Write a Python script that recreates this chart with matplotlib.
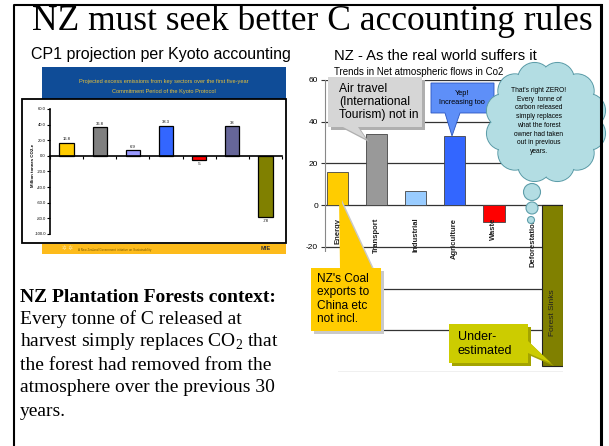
import numpy as np
import matplotlib
matplotlib.use("Agg")
import matplotlib.pyplot as plt
from matplotlib.patches import Rectangle, Polygon, Circle, Ellipse

plt.rcParams["mathtext.fontset"] = "custom"
plt.rcParams["mathtext.rm"] = "Liberation Serif"

W, H = 609, 446
SERIF = "Liberation Serif"
SANS = "Liberation Sans"

# ── Left chart: CP1 projection per Kyoto accounting ─────────
kyoto_values = [16.8, 36.8, 6.9, 38.3, -5, 38, -78]
kyoto_labels = ["16.8", "36.8", "6.9", "38.3", "-5", "38", "-78"]
kyoto_colors = ["#FFCC00", "#808080", "#9999FF", "#3366FF", "#FF0000",
                "#666699", "#808000"]
kyoto_yticks = [60, 40, 20, 0, -20, -40, -60, -80, -100]

# ── Right chart: net atmospheric flows ──────────────────────
sectors = ["Energy", "Transport", "Industrial", "Agriculture", "Waste",
           "Deforestation"]
net_flows = [16, 34, 6.7, 33, -8, 0]
sector_colors = ["#FFCC00", "#999999", "#99CCFF", "#3366FF", "#FF0000",
                 "#808000"]
forest_sinks = -77
net_yticks = [60, 40, 20, 0, -20, -40, -60, -80]


def px_axes(fig, x0, y0, x1, y1, z):
    ax = fig.add_axes([x0 / W, 1 - y1 / H, (x1 - x0) / W, (y1 - y0) / H])
    ax.set_zorder(z)
    ax.patch.set_visible(False)
    return ax


def callout(ax, pts, fill, shadow=None, off=3, edge="none"):
    if shadow:
        sh = [(x + off, y + off) for x, y in pts]
        ax.add_patch(Polygon(sh, closed=True, fc=shadow, ec="none", zorder=4))
    ax.add_patch(Polygon(pts, closed=True, fc=fill, ec=edge, lw=0.6, zorder=5))


fig = plt.figure(figsize=(W / 100, H / 100), dpi=100)

bg = fig.add_axes([0, 0, 1, 1])
bg.set_xlim(0, W)
bg.set_ylim(H, 0)
bg.axis("off")
bg.set_zorder(0)

# titles
bg.text(312, 21, "NZ must seek better C accounting rules", family=SERIF,
        fontsize=25.5, ha="center", va="center")
bg.text(31, 54, "CP1 projection per Kyoto accounting", family=SANS,
        fontsize=11.5, va="center")
bg.text(334, 56, "NZ - As the real world suffers it", family=SANS,
        fontsize=10.6, va="center")
bg.text(334, 72, "Trends in Net atmospheric flows in Co2", family=SANS,
        fontsize=7, va="center")

# left image frame
bg.add_patch(Rectangle((42, 67), 244, 32, fc="#0F4C97", ec="none"))
bg.text(164, 81, "Projected excess emissions from key sectors over the first five-year",
        family=SANS, fontsize=4.1, color="#E8C23A", ha="center", va="center")
bg.text(164, 91, "Commitment Period of the Kyoto Protocol",
        family=SANS, fontsize=4.1, color="#E8C23A", ha="center", va="center")
bg.add_patch(Rectangle((22, 99), 264, 144, fc="white", ec="black", lw=1.3))
bg.add_patch(Rectangle((42, 244), 244, 10, fc="#FDBB1B", ec="none"))
bg.text(78, 250, "A New Zealand Government initiative on Sustainability",
        family=SANS, fontsize=2.2, color="#7a5a00", va="center")
bg.text(62, 249, "✲ ✲", family="DejaVu Sans", fontsize=4, color="#FBE7A8",
        va="center")
bg.text(266, 249, "MfE", family=SANS, fontsize=4, fontweight="bold",
        color="#333333", ha="center", va="center")
bg.text(33, 165, "Million tonnes CO2-e", family=SANS, fontsize=3.2,
        fontweight="bold", rotation=90, ha="center", va="center")

# bottom-left text
bg.text(20, 297, "NZ Plantation Forests context:", family=SERIF, fontsize=14,
        fontweight="bold", va="center")
body = ["Every tonne of C released at",
        r"harvest simply replaces CO$_2$ that",
        "the forest had removed from the",
        "atmosphere over the previous 30",
        "years."]
for i, line in enumerate(body):
    bg.text(20, 319 + i * 23, line, family=SERIF, fontsize=14, va="center")

# ── left data axes ──
axl = px_axes(fig, 50, 109, 282, 234, 2)
xl = np.arange(len(kyoto_values))
axl.bar(xl, kyoto_values, width=0.43, color=kyoto_colors, edgecolor="black",
        linewidth=0.9)
for x, v, lab in zip(xl, kyoto_values, kyoto_labels):
    axl.text(x, v + (2 if v > 0 else -3), lab, fontsize=3, family=SANS,
             ha="center", va="bottom" if v > 0 else "top")
axl.set_xlim(-0.5, len(kyoto_values) - 0.5)
axl.set_ylim(-100, 60)
axl.set_yticks(kyoto_yticks)
axl.set_yticklabels([f"{v:.1f}" for v in kyoto_yticks], fontsize=3,
                    family=SANS)
axl.set_xticks(np.arange(len(kyoto_values) + 1) - 0.5)
axl.set_xticklabels([])
axl.spines["bottom"].set_position(("data", 0))
for s in ["top", "right"]:
    axl.spines[s].set_visible(False)
axl.spines["left"].set_linewidth(1.2)
axl.spines["bottom"].set_linewidth(1.2)
axl.tick_params(length=2, width=0.8, pad=1)

# ── right data axes ──
axr = px_axes(fig, 325, 80, 563, 372, 2)
xr = np.arange(len(sectors))
for y in net_yticks:
    axr.axhline(y, color="#333333" if y > -80 else "#888888", lw=0.9,
                zorder=1)
axr.bar(xr, net_flows, width=0.55, color=sector_colors, edgecolor="#444444",
        linewidth=0.6, zorder=3)
axr.bar(len(sectors) - 0.5, forest_sinks, width=0.54, color="#808000",
        edgecolor="#222222", linewidth=0.8, zorder=3)
axr.text(len(sectors) - 0.5, forest_sinks / 2 - 13, "Forest Sinks",
         rotation=90, fontsize=6, family=SANS, ha="center", va="center",
         color="#222222", zorder=4)
for x, name in zip(xr, sectors):
    axr.text(x, -6, name, rotation=90, fontsize=5.5, family=SANS,
             fontweight="bold", color="#222222", ha="center", va="top",
             zorder=4)
axr.set_xlim(-0.32, 5.77)
axr.set_ylim(-80, 60)
axr.set_yticks(net_yticks)
axr.set_yticklabels([str(v) for v in net_yticks], fontsize=6, family=SANS)
axr.set_xticks([])
for s in ["top", "right", "bottom"]:
    axr.spines[s].set_visible(False)
axr.spines["left"].set_color("#888888")
axr.tick_params(length=3, width=0.8, pad=2, color="#333333")

# ── overlay: callouts, cloud, border ──
ov = fig.add_axes([0, 0, 1, 1])
ov.set_xlim(0, W)
ov.set_ylim(H, 0)
ov.axis("off")
ov.set_zorder(10)
ov.patch.set_visible(False)

ov.add_patch(Rectangle((300, 252), 38, 130, fc="white", ec="none", zorder=3))

# gray: air travel
callout(ov, [(328, 77), (422, 77), (422, 127), (358, 127), (366, 139),
             (343, 127), (328, 127)], "#D6D6D6", shadow="#AFAFAF", off=3)
ov.text(339, 102, "Air travel\n(International\nTourism) not in", family=SANS,
        fontsize=8.7, va="center", linespacing=1.15, zorder=6)

# blue: agriculture
callout(ov, [(431, 83), (494, 83), (494, 113), (460, 113), (452, 136),
             (445, 113), (431, 113)], "#5E8FF8", edge="#2A55C0")
ov.text(462, 98, "Yep!\nIncreasing too", family=SANS, fontsize=5.3,
        ha="center", va="center", linespacing=1.3, zorder=6)

# yellow: coal exports
callout(ov, [(311, 268), (340, 268), (339, 197), (372, 268), (381, 268),
             (381, 331), (311, 331)], "#FFCC00", shadow="#C9C9C9", off=3)
ov.text(317, 299, "NZ's Coal\nexports to\nChina etc\nnot incl.", family=SANS,
        fontsize=8.6, va="center", linespacing=1.15, zorder=6)

# olive: under-estimated
callout(ov, [(449, 324), (528, 324), (528, 341), (551, 363), (528, 353),
             (528, 363), (449, 363)], "#CCCC00", shadow="#A3A300", off=3)
ov.text(458, 344, "Under-\nestimated", family=SANS, fontsize=9,
        va="center", linespacing=1.15, zorder=6)

# cloud callout
cx, cy, rr, rb = 546, 122, 44, 17
cloud_fc, cloud_ec = "#B3DDE3", "#5E9EAA"
angles = np.deg2rad(np.arange(0, 360, 30) + 15)
bumps = [(cx + rr * np.cos(a), cy + rr * np.sin(a)) for a in angles]
for bx, by in bumps:
    ov.add_patch(Circle((bx, by), rb, fc=cloud_fc, ec=cloud_ec, lw=0.8,
                        zorder=5))
ov.add_patch(Ellipse((cx, cy), 2 * rr, 2 * rr, fc=cloud_fc, ec="none",
                     zorder=6))
for bx, by in bumps:
    ov.add_patch(Circle((bx, by), rb - 0.7, fc=cloud_fc, ec="none", zorder=6))
for bx, by, r in [(532, 192, 8.5), (532, 208, 6), (531, 220, 3.5)]:
    ov.add_patch(Circle((bx, by), r, fc=cloud_fc, ec=cloud_ec, lw=0.8,
                        zorder=6))
ov.text(539, 121, "That's right ZERO!\nEvery  tonne of\ncarbon released\n"
        "simply replaces\nwhat the forest\nowner had taken\nout in previous\n"
        "years.", family=SANS, fontsize=4.8, ha="center", va="center",
        linespacing=1.35, zorder=7)

# slide border
ov.plot([14, 14, 601], [446, 5, 5], color="black", lw=1.5, zorder=9)
ov.plot([601, 601], [5, 446], color="black", lw=2.2, zorder=9)

fig.savefig("out.png", dpi=100)
